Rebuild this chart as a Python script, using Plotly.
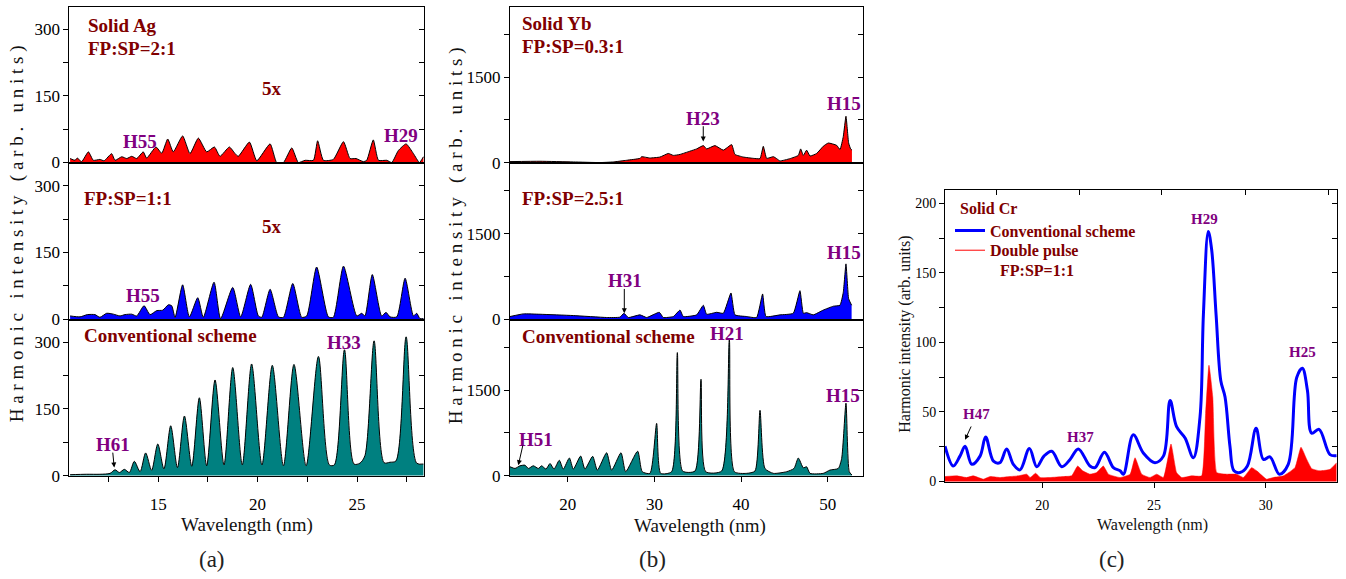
import plotly.graph_objects as go

# ---------------- data ----------------
# (a) Solid Ag, FP:SP = 2:1 (x5)
ag_21_wl = [10.57, 10.82, 10.93, 11.15, 11.49, 11.74, 12.07, 12.28, 12.66, 12.83,
            13.17, 13.42, 13.67, 13.92, 14.25, 14.42, 14.89, 15.18, 15.48, 15.76,
            16.23, 16.60, 17.02, 17.44, 17.83, 18.11, 18.58, 18.87, 19.03, 19.59,
            19.96, 20.63, 20.96, 21.30, 21.72, 22.05, 22.39, 22.81, 23.02, 23.31,
            23.81, 24.32, 24.65, 24.95, 25.32, 25.49, 25.82, 26.08, 26.50, 26.75,
            27.08, 27.47, 27.84, 28.14, 28.34]
ag_21_int = [9, 5, 10, 2, 24, 5, 7, 4, 20, 5,
             13, 9, 14, 9, 24, 10, 35, 21, 53, 24,
             60, 20, 55, 24, 35, 14, 35, 20, 14, 46,
             4, 42, 0, 0, 33, 0, 5, 5, 49, 5,
             7, 47, 9, 9, 2, 5, 51, 5, 5, 0,
             27, 42, 20, 0, 13]

# (a) Solid Ag, FP:SP = 1:1 (x5)
ag_11_wl = [10.57, 11.07, 11.44, 11.82, 12.07, 12.41, 12.75, 13.08, 13.33, 13.67,
            13.92, 14.29, 14.59, 14.93, 15.23, 15.51, 15.68, 15.85, 16.23, 16.57,
            16.99, 17.27, 17.81, 18.14, 18.75, 19.15, 19.65, 20.04, 20.21, 20.63,
            21.05, 21.30, 21.77, 22.22, 22.47, 22.97, 23.56, 23.81, 24.32, 24.99,
            25.24, 25.40, 25.77, 26.24, 26.46, 26.66, 27.00, 27.42, 27.84, 28.00,
            28.17, 28.34]
ag_11_int = [7, 5, 10, 10, 4, 13, 11, 7, 10, 11,
             7, 30, 10, 19, 20, 32, 30, 4, 77, 5,
             48, 4, 83, 1, 71, 5, 78, 7, 4, 67,
             5, 4, 80, 4, 7, 117, 5, 4, 119, 7,
             13, 7, 100, 7, 15, 5, 5, 92, 7, 13,
             1, 1]

# (a) Solid Ag, conventional scheme
ag_conv_wl = [10.57, 11.40, 12.07, 12.58, 12.83, 13.05, 13.30, 13.55, 13.80, 14.09,
              14.37, 14.67, 14.98, 15.29, 15.63, 15.97, 16.32, 16.69, 17.07, 17.44,
              17.86, 18.31, 18.75, 19.23, 19.70, 20.22, 20.74, 21.30, 21.83, 22.44,
              23.06, 23.61, 23.86, 24.37, 24.85, 25.15, 25.40, 25.86, 26.36, 26.66,
              26.96, 27.47, 28.00, 28.34]
ag_conv_int = [2, 3, 3, 5, 13, 7, 14, 7, 32, 9,
               51, 12, 71, 15, 112, 18, 134, 21, 175, 22,
               215, 24, 243, 24, 251, 24, 248, 22, 250, 22,
               268, 24, 24, 283, 26, 28, 45, 303, 29, 30,
               33, 312, 28, 26]

# (b) Solid Yb, FP:SP = 0.3:1
yb_03_wl = [13.33, 16.79, 20.64, 23.72, 25.25, 26.79, 28.33, 28.52, 29.48, 30.64,
            31.60, 32.18, 32.95, 34.10, 34.87, 35.64, 36.02, 36.98, 37.95, 38.91,
            39.29, 40.25, 41.41, 42.18, 42.56, 42.95, 43.72, 44.10, 44.48, 45.64,
            46.60, 46.87, 47.18, 47.56, 47.95, 48.72, 49.48, 50.06, 51.02, 51.41,
            51.79, 52.10, 52.41, 52.64, 52.79]
yb_03_int = [17, 23, 11, 0, 11, 40, 74, 103, 80, 97,
             160, 126, 143, 200, 240, 298, 240, 298, 218, 315,
             143, 97, 74, 69, 286, 74, 103, 69, 29, 69,
             126, 240, 126, 218, 115, 160, 286, 343, 303, 229,
             458, 813, 343, 240, 218]

# (b) Solid Yb, FP:SP = 2.5:1
yb_25_wl = [13.33, 14.87, 16.79, 20.64, 24.48, 26.02, 26.48, 26.98, 28.33, 29.10,
            30.56, 31.02, 32.18, 32.95, 33.33, 34.87, 35.64, 36.02, 37.18, 37.95,
            38.83, 39.29, 40.64, 41.79, 42.48, 42.87, 44.48, 46.02, 46.79, 47.18,
            47.56, 48.33, 49.48, 50.64, 51.41, 51.79, 52.10, 52.41, 52.75]
yb_25_int = [45, 91, 85, 62, 28, 34, 102, 28, 74, 28,
             119, 28, 45, 158, 45, 74, 243, 85, 119, 102,
             458, 74, 45, 28, 441, 45, 74, 102, 498, 102,
             113, 74, 158, 226, 243, 470, 968, 357, 243]

# (b) Solid Yb, conventional scheme
yb_conv_wl = [13.33, 13.91, 14.48, 15.06, 15.45, 16.02, 16.60, 16.98, 17.48, 17.95,
              18.41, 19.02, 19.48, 20.18, 20.64, 21.48, 21.98, 22.87, 23.41, 24.48,
              25.06, 26.14, 26.68, 28.06, 28.59, 29.48, 30.25, 30.72, 31.98, 32.64,
              33.25, 34.68, 35.37, 35.91, 37.75, 38.64, 39.22, 40.64, 41.60, 42.18,
              42.75, 43.72, 45.25, 46.10, 46.60, 47.18, 47.56, 47.95, 49.48, 50.25,
              51.21, 51.60, 52.10, 52.48, 52.79]
yb_conv_int = [155, 126, 172, 183, 126, 172, 126, 172, 115, 212,
               115, 269, 115, 309, 115, 343, 115, 338, 97, 401,
               97, 401, 69, 429, 69, 40, 916, 40, 69, 2158,
               80, 80, 1689, 69, 80, 2387, 69, 40, 80, 1145,
               126, 40, 69, 126, 309, 137, 155, 40, 40, 97,
               126, 298, 1271, 69, 11]

# (c) Solid Cr, conventional scheme
cr_conv_wl = [15.64, 16.01, 16.31, 16.54, 16.84, 17.21, 17.46, 17.81, 18.10, 18.40,
              18.70, 19.00, 19.42, 19.75, 20.07, 20.42, 20.87, 21.24, 21.61, 22.13,
              22.36, 22.78, 23.18, 23.48, 23.63, 24.07, 24.52, 25.04, 25.42, 25.72,
              26.01, 26.39, 26.76, 27.06, 27.21, 27.43, 27.58, 27.78, 27.99, 28.18,
              28.40, 28.58, 28.85, 29.18, 29.57, 29.90, 30.19, 30.61, 31.01, 31.39,
              31.64, 31.87, 32.06, 32.39, 32.88, 33.18]
cr_conv_int = [25.3, 11.1, 18.2, 25.3, 12.3, 18.2, 31.9, 14.6, 13.5, 23.4,
               12.3, 8.3, 23.6, 10.6, 18.2, 21.7, 10.6, 15.8, 23.4, 11.1,
               9.9, 21.0, 9.9, 7.6, 5.2, 33.5, 20.5, 13.5, 18.2, 58.3,
               39.4, 31.2, 17.0, 46.5, 119.7, 179.9, 166.9, 119.7, 72.5, 60.7,
               25.3, 7.6, 6.4, 11.1, 38.2, 15.8, 17.7, 5.2, 12.3, 74.8,
               81.4, 65.4, 34.7, 37.5, 19.3, 18.6]

# (c) Solid Cr, double pulse FP:SP = 1:1
cr_dp_wl = [15.64, 16.16, 16.61, 16.91, 17.36, 17.66, 18.10, 18.55, 18.93, 19.30,
            19.45, 19.70, 19.90, 20.34, 20.94, 21.31, 21.58, 21.81, 22.13, 22.43,
            22.73, 22.96, 23.48, 23.93, 24.15, 24.45, 24.82, 25.12, 25.42, 25.76,
            26.01, 26.24, 26.69, 27.13, 27.31, 27.46, 27.63, 27.81, 28.25, 28.70,
            29.00, 29.37, 29.60, 30.04, 30.34, 30.79, 31.31, 31.58, 31.84, 32.06,
            32.43, 32.88, 33.18]
cr_dp_int = [3.5, 4.0, 2.8, 4.0, 1.6, 3.5, 2.8, 3.5, 4.0, 5.2,
             2.8, 5.9, 2.8, 2.8, 3.5, 4.0, 11.1, 7.6, 5.2, 6.4,
             11.1, 5.2, 2.8, 5.2, 17.0, 5.2, 2.8, 5.2, 2.8, 26.9,
             6.4, 2.8, 4.0, 4.0, 48.9, 83.6, 60.7, 6.4, 5.2, 5.2,
             2.8, 9.9, 7.6, 1.6, 2.8, 4.0, 9.9, 24.6, 15.8, 9.2,
             7.6, 8.7, 13.5]

# ---------------- style ----------------
W, H = 1346, 579
FONT = "Liberation Serif"
DARKRED = "#800000"
PURPLE = "#800080"
TEAL = "#008080"
RED = "#FF0000"
BLUE = "#0000FF"


def dom_x(a, b):
    return [a / W, b / W]


def dom_y(top, bot):
    return [1 - bot / H, 1 - top / H]


A_X = dom_x(69.3, 424.0)
B_X = dom_x(510.0, 862.7)
C_X = dom_x(945.0, 1336.7)
ROWS = [dom_y(7.2, 166.0), dom_y(166.0, 325.0), dom_y(325.0, 484.0)]
C_Y = dom_y(193.3, 490.0)

A_XR, B_XR, C_XR = [10.53, 28.37], [13.33, 54.03], [15.64, 33.18]
A_YR, B_YR, C_YR = [-2, 350], [-15, 2730], [-0.7, 209.5]

# index: (xdomain, ydomain, xrange, yrange, xdtick, xminor, ydtick, yminor, show x labels, font)
subplots = {
    1: (A_X, ROWS[0], A_XR, A_YR, 5, 2.5, 150, 75, False, 17),
    2: (A_X, ROWS[1], A_XR, A_YR, 5, 2.5, 150, 75, False, 17),
    3: (A_X, ROWS[2], A_XR, A_YR, 5, 2.5, 150, 75, True, 17),
    4: (B_X, ROWS[0], B_XR, B_YR, 10, None, 1500, 750, False, 17),
    5: (B_X, ROWS[1], B_XR, B_YR, 10, None, 1500, 750, False, 17),
    6: (B_X, ROWS[2], B_XR, B_YR, 10, None, 1500, 750, True, 17),
    7: (C_X, C_Y, C_XR, C_YR, 5, None, 50, 25, True, 14),
}


def aid(prefix, i):
    return prefix if i == 1 else f"{prefix}{i}"


layout_axes = {}
for i, (xd, yd, xr, yr, xdt, xmn, ydt, ymn, showx, fs) in subplots.items():
    tf = dict(family=FONT, size=fs, color="black")
    xax = dict(domain=xd, range=xr, anchor=aid("y", i), showline=True, mirror=True,
               linecolor="black", linewidth=1, showgrid=False, zeroline=False,
               ticks="outside" if showx else "", ticklen=5, tickcolor="black",
               showticklabels=showx, tick0=0, dtick=xdt, tickfont=tf,
               ticklabelstandoff=7 if i != 7 else 5)
    if showx and xmn:
        xax["minor"] = dict(dtick=xmn, tick0=0, ticks="outside", ticklen=5, tickcolor="black")
    yax = dict(domain=yd, range=yr, anchor=aid("x", i), showline=True, mirror=True,
               linecolor="black", linewidth=1, showgrid=False, zeroline=False,
               ticks="outside", ticklen=5, tickcolor="black", tick0=0, dtick=ydt,
               minor=dict(dtick=ymn, tick0=0, ticks="outside", ticklen=5, tickcolor="black"),
               tickfont=tf)
    # right-hand inside ticks
    yr_ax = dict(overlaying=aid("y", i), side="right", anchor=aid("x", i), range=yr,
                 showline=False, showgrid=False, zeroline=False, showticklabels=False,
                 ticks="inside", ticklen=5, tickcolor="black", tick0=0, dtick=ydt,
                 minor=dict(dtick=ymn, tick0=0, ticks="inside", ticklen=5, tickcolor="black"))
    layout_axes[aid("xaxis", i)] = xax
    layout_axes[aid("yaxis", i)] = yax
    layout_axes[f"yaxis{i + 7}"] = yr_ax

# top-edge ticks of panel (c)
top_tick_pos = [0.1302, 0.3429, 0.5533, 0.7660, 0.9787]
layout_axes["xaxis15"] = dict(overlaying="x7", side="top", anchor="y7", range=[0, 1],
                              showline=False, showgrid=False, zeroline=False,
                              showticklabels=False, ticks="inside", ticklen=5,
                              tickcolor="black", tickmode="array", tickvals=top_tick_pos)

fig = go.Figure()


def spectrum(x, y, i, fill, smooth=0.7, lc="black", lw=1):
    fig.add_trace(go.Scatter(x=x, y=y, xaxis=aid("x", i), yaxis=aid("y", i), mode="lines",
                             fill="tozeroy", fillcolor=fill,
                             line=dict(color=lc, width=lw, shape="spline", smoothing=smooth),
                             showlegend=False, hoverinfo="skip"))


spectrum(ag_21_wl, ag_21_int, 1, RED, 0.5)
spectrum(ag_11_wl, ag_11_int, 2, BLUE, 0.6)
spectrum(ag_conv_wl, ag_conv_int, 3, TEAL, 0.8)
spectrum(yb_03_wl, yb_03_int, 4, RED, 0.4)
spectrum(yb_25_wl, yb_25_int, 5, BLUE, 0.4)
spectrum(yb_conv_wl, yb_conv_int, 6, TEAL, 0.6)
spectrum(cr_dp_wl, cr_dp_int, 7, RED, 0.4, lc=RED, lw=0.5)

fig.add_trace(go.Scatter(x=cr_conv_wl, y=cr_conv_int, xaxis="x7", yaxis="y7", mode="lines",
                         line=dict(color=BLUE, width=3, shape="spline", smoothing=1.0),
                         name="<b>Conventional scheme</b>", legend="legend",
                         hoverinfo="skip"))
fig.add_trace(go.Scatter(x=[None], y=[None], xaxis="x7", yaxis="y7", mode="lines",
                         line=dict(color=RED, width=1), name="<b>Double pulse</b>",
                         legend="legend2", hoverinfo="skip"))

for i in subplots:
    fig.add_trace(go.Scatter(x=[None], y=[None], xaxis=aid("x", i), yaxis=f"y{i + 7}",
                             showlegend=False, hoverinfo="skip"))
fig.add_trace(go.Scatter(x=[None], y=[None], xaxis="x15", yaxis="y7",
                         showlegend=False, hoverinfo="skip"))

# ---------------- annotations ----------------
ann = []


def ptxt(s, x, y, size=19, color=DARKRED, xanchor="left", bold=True, shift=None):
    if shift is None:
        shift = -4 if bold else -7
    ann.append(dict(text=f"<b>{s}</b>" if bold else s, x=x / W, y=1 - y / H, xref="paper",
                    yref="paper", showarrow=False, xanchor=xanchor, yanchor="middle",
                    yshift=shift, font=dict(family=FONT, size=size, color=color)))


def dtxt(s, x, y, i, size=19, color=PURPLE):
    ann.append(dict(text=f"<b>{s}</b>", x=x, y=y, xref=aid("x", i), yref=aid("y", i),
                    showarrow=False, xanchor="center", yanchor="middle",
                    yshift=-round(size * 0.2), font=dict(family=FONT, size=size, color=color)))


def darrow(hx, hy, tx, ty, i):
    ann.append(dict(text="", x=hx, y=hy, ax=tx, ay=ty, xref=aid("x", i), yref=aid("y", i),
                    axref=aid("x", i), ayref=aid("y", i), showarrow=True, arrowhead=2,
                    arrowsize=1, arrowwidth=1, arrowcolor="black"))


# panel (a)
ptxt("Solid Ag", 86, 22)
ptxt("FP:SP=2:1", 86, 45)
dtxt("5x", 20.73, 176, 1, color=DARKRED)
dtxt("H55", 14.09, 57, 1)
dtxt("H29", 27.22, 70, 1)
ptxt("FP:SP=1:1", 82, 198)
dtxt("5x", 20.73, 217, 2, color=DARKRED)
dtxt("H55", 14.24, 63, 2)
ptxt("Conventional scheme", 82, 337)
dtxt("H33", 24.35, 309, 3)
dtxt("H61", 12.73, 78, 3)
darrow(12.79, 18, 12.71, 55, 3)

# panel (b)
ptxt("Solid Yb", 520, 20)
ptxt("FP:SP=0.3:1", 520, 43)
dtxt("H23", 35.6, 836, 4)
darrow(35.63, 372, 35.63, 664, 4)
dtxt("H15", 51.87, 1110, 4)
ptxt("FP:SP=2.5:1", 520, 198)
dtxt("H31", 26.6, 747, 5)
darrow(26.52, 102, 26.52, 555, 5)
dtxt("H15", 51.87, 1239, 5)
ptxt("Conventional scheme", 520, 338)
dtxt("H21", 38.37, 2560, 6)
dtxt("H15", 51.75, 1478, 6)
dtxt("H51", 16.33, 704, 6)
darrow(14.29, 184, 14.85, 555, 6)

# panel (c)
ptxt("Solid Cr", 958, 209, size=16, shift=-3)
ptxt("FP:SP=1:1", 998, 272, size=16, shift=-3)
dtxt("H47", 17.03, 51, 7, size=15)
darrow(16.54, 30, 16.84, 40.6, 7)
dtxt("H37", 21.69, 34, 7, size=15)
dtxt("H29", 27.28, 191, 7, size=15)
dtxt("H25", 31.67, 95.6, 7, size=15)

# axis titles
words = ["Harmonic", "intensity", "(arb.", "units)"]
spaced = ("\u00a0" * 3).join("\u00a0".join(w) for w in words)
for xc, yc in [(17, 238), (456, 240)]:
    ann.append(dict(text=spaced, x=xc / W, y=1 - yc / H, xref="paper", yref="paper",
                    showarrow=False, textangle=-90, xanchor="center", yanchor="middle",
                    font=dict(family=FONT, size=19, color="#111111")))
ann.append(dict(text="Harmonic intensity (arb. units)", x=905 / W, y=1 - 340 / H,
                xref="paper", yref="paper", showarrow=False, textangle=-90,
                xanchor="center", yanchor="middle",
                font=dict(family=FONT, size=16, color="#111111")))
for xc, yc, fs in [(247, 526, 19), (700, 527, 19), (1152, 526, 16)]:
    ptxt("Wavelength (nm)", xc, yc, size=fs, color="#111111", xanchor="center", bold=False)
for s, xc in [("(a)", 212), ("(b)", 652), ("(c)", 1112)]:
    ptxt(s, xc, 560, size=23, color="#222222", xanchor="center", bold=False, shift=-8)

leg_style = dict(xanchor="left", yanchor="top", bgcolor="rgba(0,0,0,0)",
                 font=dict(family=FONT, size=16, color=DARKRED), itemwidth=30)
fig.update_layout(
    width=W, height=H, margin=dict(l=0, r=0, t=0, b=0),
    paper_bgcolor="white", plot_bgcolor="white",
    showlegend=True,
    legend=dict(x=950 / W, y=1 - 217 / H, **leg_style),
    legend2=dict(x=950 / W, y=1 - 237 / H, **leg_style),
    annotations=ann,
    **layout_axes,
)

fig.write_html("out.html", config={"displayModeBar": False},
               post_script="document.body.style.margin='0px';document.body.style.padding='0px';")
